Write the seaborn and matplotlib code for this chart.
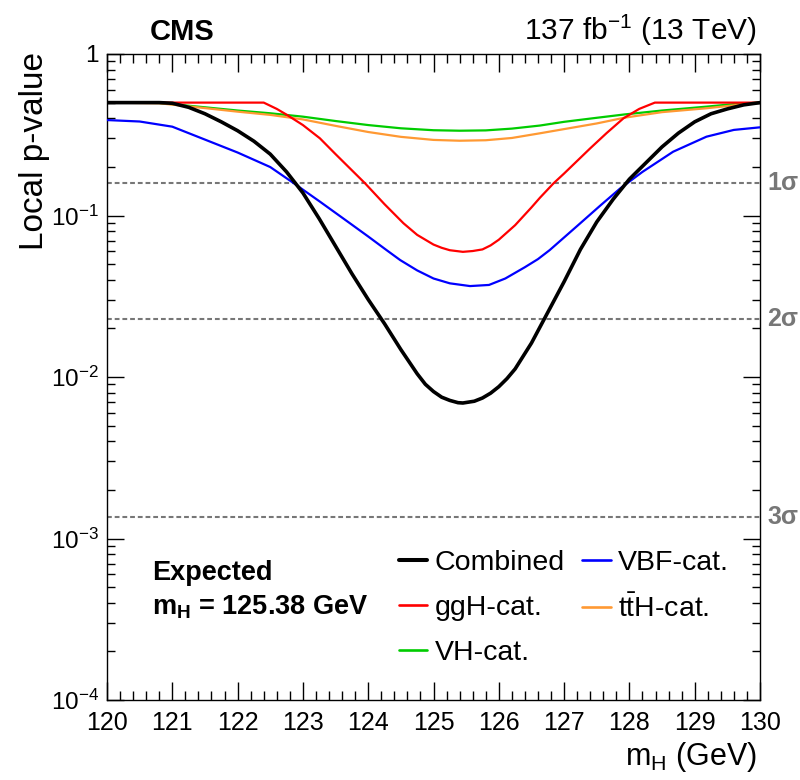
import numpy as np
import pandas as pd
import matplotlib
matplotlib.use("Agg")
import matplotlib.pyplot as plt
from matplotlib.ticker import FixedLocator, LogLocator, NullFormatter, MultipleLocator
from matplotlib.lines import Line2D
import seaborn as sns

# ---------------- data: expected local p-value vs Higgs mass ----------------
combined_mh = [120.0, 120.5, 120.8, 121.0, 121.25, 121.5, 121.75, 122.0, 122.25, 122.5,
               122.75, 123.0, 123.25, 123.5, 123.75, 124.0, 124.25, 124.5, 124.75, 124.875,
               125.0, 125.125, 125.25, 125.375, 125.45, 125.625, 125.75, 125.875, 126.0,
               126.125, 126.25, 126.5, 126.75, 127.0, 127.25, 127.5,
               127.75, 128.0, 128.25, 128.5, 128.75, 129.0, 129.25, 129.5, 129.75, 130.0]
combined_log10p = [-0.301, -0.301, -0.301, -0.305, -0.33, -0.37, -0.42, -0.475, -0.54, -0.62,
                   -0.73, -0.86, -1.02, -1.19, -1.36, -1.52, -1.67, -1.83, -1.98, -2.045,
                   -2.09, -2.125, -2.145, -2.159, -2.161, -2.15, -2.13, -2.10, -2.06,
                   -2.01, -1.95, -1.79, -1.60, -1.41, -1.21, -1.04,
                   -0.90, -0.775, -0.675, -0.575, -0.49, -0.42, -0.37, -0.34, -0.315, -0.301]

ggh_mh = [120.0, 121.0, 122.0, 122.4, 122.6, 122.76, 123.0, 123.26, 123.5, 123.75, 123.95,
          124.25, 124.54, 124.75, 125.0, 125.125, 125.25, 125.45, 125.6, 125.75, 125.875,
          126.0, 126.25, 126.5, 126.63, 126.84, 127.0, 127.4, 127.65, 127.91, 128.15,
          128.39, 129.0, 130.0]
ggh_log10p = [-0.301, -0.301, -0.301, -0.301, -0.34, -0.378, -0.44, -0.522, -0.62, -0.72, -0.80,
              -0.93, -1.048, -1.12, -1.18, -1.20, -1.215, -1.225, -1.22, -1.21, -1.185,
              -1.15, -1.06, -0.95, -0.89, -0.80, -0.74, -0.584, -0.49, -0.398, -0.34,
              -0.301, -0.301, -0.301]

vbf_mh = [120.0, 120.5, 121.0, 121.5, 122.0, 122.5, 122.86, 123.26, 123.72, 124.0, 124.28,
          124.49, 124.75, 125.0, 125.25, 125.56, 125.85, 126.1, 126.4, 126.6, 126.78,
          127.2, 127.55, 127.86, 128.2, 128.67, 129.18, 129.6, 130.0]
vbf_log10p = [-0.409, -0.418, -0.45, -0.53, -0.61, -0.70, -0.80, -0.914, -1.048, -1.13, -1.214,
              -1.276, -1.34, -1.39, -1.42, -1.437, -1.43, -1.39, -1.32, -1.27, -1.214,
              -1.065, -0.94, -0.832, -0.73, -0.605, -0.512, -0.47, -0.454]

vh_mh = [120.0, 120.8, 121.5, 122.0, 122.5, 123.0, 123.5, 124.0, 124.5, 125.0, 125.4,
         125.8, 126.2, 126.63, 127.0, 127.5, 127.93, 128.5, 129.18, 129.6, 130.0]
vh_log10p = [-0.301, -0.303, -0.33, -0.35, -0.367, -0.388, -0.415, -0.44, -0.46, -0.472, -0.475,
             -0.473, -0.462, -0.443, -0.42, -0.395, -0.374, -0.35, -0.326, -0.31, -0.301]

tth_mh = [120.0, 120.8, 121.5, 122.0, 122.5, 123.0, 123.5, 124.0, 124.5, 125.0, 125.4,
          125.8, 126.2, 126.63, 127.0, 127.5, 127.93, 128.5, 129.18, 129.6, 130.0]
tth_log10p = [-0.301, -0.305, -0.335, -0.357, -0.377, -0.405, -0.445, -0.483, -0.513, -0.532, -0.537,
              -0.534, -0.52, -0.491, -0.465, -0.43, -0.394, -0.36, -0.336, -0.318, -0.301]

# one-sided p-values of 1, 2 and 3 standard deviations
sigma_labels = ["1σ", "2σ", "3σ"]
sigma_pvalues = [0.158655, 0.0227501, 0.0013499]

x_ticks = [120, 121, 122, 123, 124, 125, 126, 127, 128, 129, 130]
y_ticks = [1e-4, 1e-3, 1e-2, 1e-1, 1]
y_ticklabels = [r"$10^{-4}$", r"$10^{-3}$", r"$10^{-2}$", r"$10^{-1}$", "1"]

# ---------------- style ----------------
sns.set_theme(style="ticks")
plt.rcParams["font.family"] = ["Liberation Sans", "DejaVu Sans"]
plt.rcParams["mathtext.fontset"] = "custom"
plt.rcParams["mathtext.rm"] = "Liberation Sans"
plt.rcParams["mathtext.it"] = "Liberation Sans:italic"
plt.rcParams["mathtext.bf"] = "Liberation Sans:bold"
plt.rcParams["axes.linewidth"] = 1.0
for key in ["text.color", "axes.labelcolor", "xtick.color", "ytick.color",
            "axes.edgecolor", "xtick.labelcolor", "ytick.labelcolor"]:
    plt.rcParams[key] = "black"

series = [
    ("VH-cat.", vh_mh, vh_log10p, "#00cc00", 1.6),
    (r"$\mathrm{t\bar{t}}$H-cat.", tth_mh, tth_log10p, "#ff9933", 1.6),
    ("VBF-cat.", vbf_mh, vbf_log10p, "#0000ff", 1.6),
    ("ggH-cat.", ggh_mh, ggh_log10p, "#ff0000", 1.6),
    ("Combined", combined_mh, combined_log10p, "#000000", 2.6),
]

frames = []
for name, mh, lp, _, _ in series:
    frames.append(pd.DataFrame({"mH": mh, "p": np.power(10.0, lp), "cat": name}))
df = pd.concat(frames, ignore_index=True)

fig = plt.figure(figsize=(8.0, 7.8), dpi=100)
ax = fig.add_axes([107 / 800, 1 - 700 / 780, 653 / 800, 646 / 780])
ax.set_yscale("log")

# significance reference lines
for lab, pv in zip(sigma_labels, sigma_pvalues):
    ax.axhline(pv, color="#777777", lw=1.5, dashes=(2.3, 1.4), zorder=1)
    ax.text(1.011, pv, lab, transform=ax.get_yaxis_transform(), color="#777777",
            fontsize=18, fontweight="bold", ha="left", va="center")

handles = {}
for i, (name, mh, lp, color, lw) in enumerate(series):
    sub = df[df["cat"] == name]
    sns.lineplot(data=sub, x="mH", y="p", ax=ax, color=color, linewidth=lw,
                 sort=False, estimator=None, zorder=3 + i)
    handles[name] = Line2D([], [], color=color, lw=lw + 0.3)

ax.set_xlim(120, 130)
ax.set_ylim(1e-4, 1)
ax.set_xlabel("")
ax.set_ylabel("")

ax.xaxis.set_major_locator(FixedLocator(x_ticks))
ax.xaxis.set_minor_locator(MultipleLocator(0.2))
ax.set_xticklabels([str(t) for t in x_ticks])
ax.yaxis.set_major_locator(FixedLocator(y_ticks))
ax.set_yticklabels(y_ticklabels)
ax.yaxis.set_minor_locator(LogLocator(base=10, subs=np.arange(2, 10)))
ax.yaxis.set_minor_formatter(NullFormatter())

ax.tick_params(which="both", direction="in", top=True, right=True, width=1.0,
               color="black", labelcolor="black")
ax.tick_params(axis="x", which="major", length=13, pad=8, labelsize=18)
ax.tick_params(axis="x", which="minor", length=6.5)
ax.tick_params(axis="y", which="major", length=12.5, pad=6, labelsize=17.5)
ax.tick_params(axis="y", which="minor", length=6)
for s in ax.spines.values():
    s.set_color("black")

# legend: Combined / ggH / VH in the first column, VBF / ttH in the second
order = ["Combined", "ggH-cat.", "VH-cat.", "VBF-cat.", r"$\mathrm{t\bar{t}}$H-cat."]
ax.legend([handles[k] for k in order], order, ncol=2, loc="upper left",
          bbox_to_anchor=(0.447, 0.232), frameon=False, fontsize=20.5,
          handlelength=1.0, handletextpad=0.25, columnspacing=0.62,
          labelspacing=0.66, borderaxespad=0.0, borderpad=0.0)

ax.text(0.069, 0.186, "Expected", transform=ax.transAxes, fontsize=19.5,
        fontweight="bold", ha="left", va="baseline")
ax.text(0.069, 0.133, r"$\mathbf{m_{H}}$ = 125.38 GeV", transform=ax.transAxes,
        fontsize=19.5, fontweight="bold", ha="left", va="baseline")

# titles and axis labels
fig.text(150 / 800, 1 - 40 / 780, "CMS", fontsize=21, fontweight="bold",
         ha="left", va="baseline")
fig.text(757 / 800, 1 - 40 / 780, r"137 fb$^{-1}$ (13 TeV)", fontsize=21.5,
         ha="right", va="baseline")
fig.text(35 / 800, 1 - 52 / 780, "Local p-value", fontsize=24, rotation=90,
         ha="center", va="top")
fig.text(757 / 800, 1 - 765 / 780, r"m$_{\mathrm{H}}$ (GeV)", fontsize=22,
         ha="right", va="baseline")

fig.savefig("out.png", dpi=100)
